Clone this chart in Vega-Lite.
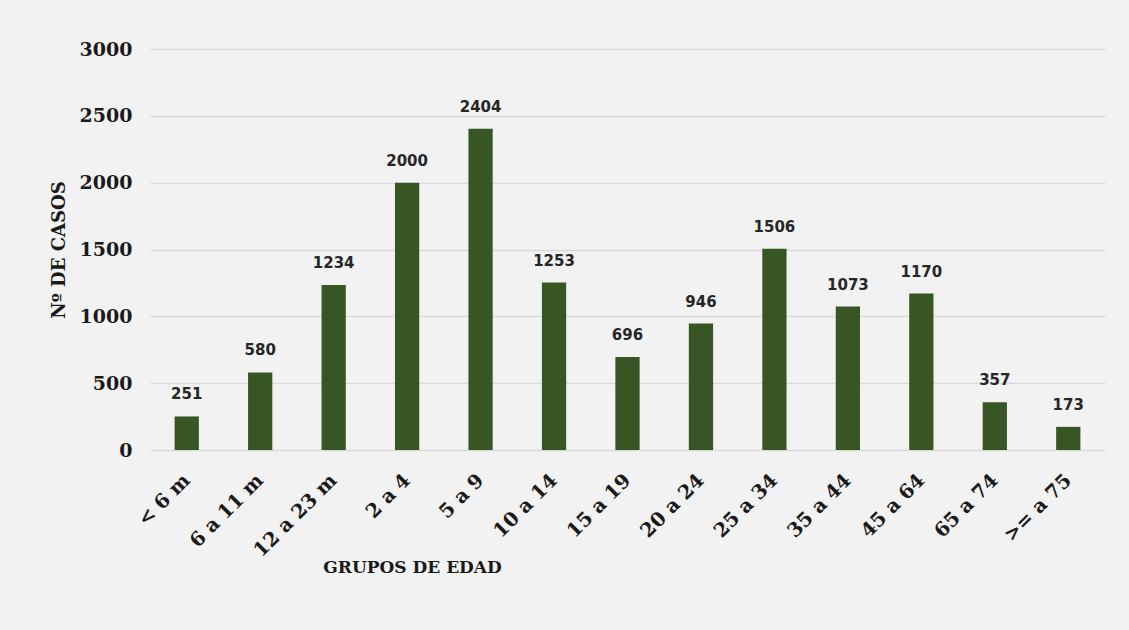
{
  "$schema": "https://vega.github.io/schema/vega-lite/v6.json",
  "width": 955,
  "height": 401,
  "autosize": {"type": "none"},
  "padding": {"left": 150, "top": 49, "right": 24, "bottom": 180},
  "background": "#f2f2f2",
  "config": {"view": {"stroke": null}},
  "data": {
    "values": [
      {"grupo": "< 6 m", "casos": 251},
      {"grupo": "6 a 11 m", "casos": 580},
      {"grupo": "12 a 23 m", "casos": 1234},
      {"grupo": "2 a 4", "casos": 2000},
      {"grupo": "5 a 9", "casos": 2404},
      {"grupo": "10 a 14", "casos": 1253},
      {"grupo": "15 a 19", "casos": 696},
      {"grupo": "20 a 24", "casos": 946},
      {"grupo": "25 a 34", "casos": 1506},
      {"grupo": "35 a 44", "casos": 1073},
      {"grupo": "45 a 64", "casos": 1170},
      {"grupo": "65 a 74", "casos": 357},
      {"grupo": ">= a 75", "casos": 173}
    ]
  },
  "encoding": {
    "x": {
      "field": "grupo",
      "type": "nominal",
      "sort": null,
      "scale": {"paddingInner": 0.67, "paddingOuter": 0.335},
      "axis": {
        "title": "GRUPOS DE EDAD",
        "titleFont": "DejaVu Serif",
        "titleFontSize": 17,
        "titleFontWeight": "bold",
        "titleColor": "#1a1a1a",
        "titleX": 262,
        "titleY": 117,
        "titleAlign": "center",
        "titleBaseline": "middle",
        "labelAngle": -45,
        "labelAlign": "right",
        "labelBaseline": "middle",
        "labelFont": "DejaVu Serif",
        "labelFontSize": 19.5,
        "labelFontWeight": "bold",
        "labelColor": "#1a1a1a",
        "labelPadding": 27,
        "ticks": false,
        "tickSize": 0,
        "domain": false,
        "grid": false
      }
    },
    "y": {
      "field": "casos",
      "type": "quantitative",
      "scale": {"domain": [0, 3000], "nice": false},
      "axis": {
        "values": [0, 500, 1000, 1500, 2000, 2500, 3000],
        "format": "d",
        "title": "Nº DE CASOS",
        "titleFont": "DejaVu Serif",
        "titleFontSize": 18,
        "titleFontWeight": "bold",
        "titleColor": "#1a1a1a",
        "titlePadding": 11,
        "labelFont": "DejaVu Serif",
        "labelFontSize": 19,
        "labelFontWeight": "bold",
        "labelColor": "#1a1a1a",
        "labelPadding": 18,
        "ticks": false,
        "tickSize": 0,
        "domain": false,
        "grid": true,
        "gridColor": "#d9d9d9",
        "gridWidth": 1.5
      }
    }
  },
  "layer": [
    {"mark": {"type": "bar", "color": "#375623"}},
    {
      "mark": {
        "type": "text",
        "baseline": "bottom",
        "dy": -14,
        "font": "DejaVu Sans",
        "fontSize": 15,
        "fontWeight": "bold",
        "color": "#262626"
      },
      "encoding": {"text": {"field": "casos", "type": "quantitative"}}
    }
  ]
}
